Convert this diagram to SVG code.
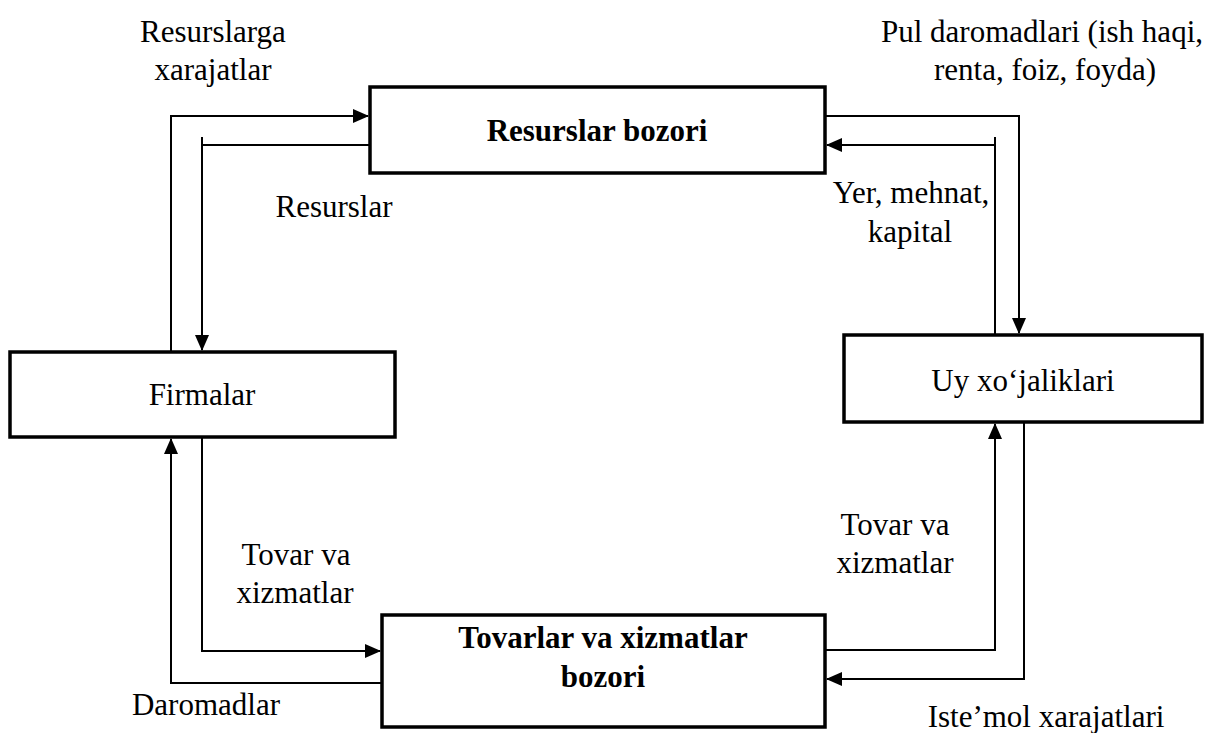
<svg xmlns="http://www.w3.org/2000/svg" width="1206" height="733" viewBox="0 0 1206 733">
<style>
.box{fill:#fff;stroke:#000;stroke-width:3.5}
.ln{fill:none;stroke:#000;stroke-width:2}
.t{font-family:"Liberation Serif","Times New Roman",serif;font-size:31px;fill:#000;text-anchor:middle}
.b{font-weight:bold}
</style>
<defs>
<marker id="ah" markerUnits="userSpaceOnUse" markerWidth="16" markerHeight="14" refX="15" refY="7" orient="auto">
<path d="M0,0 L16,7 L0,14 Z" fill="#000"/>
</marker>
</defs>
<rect width="1206" height="733" fill="#fff"/>
<g id="connectors">
<path class="ln" d="M171,352 V116 H368" marker-end="url(#ah)"/>
<path class="ln" d="M370,145 H202"/>
<path class="ln" d="M202,137 V350" marker-end="url(#ah)"/>
<path class="ln" d="M825,116 H1019 V333" marker-end="url(#ah)"/>
<path class="ln" d="M995,335 V137"/>
<path class="ln" d="M995,145 H827" marker-end="url(#ah)"/>
<path class="ln" d="M202,437 V651 H380" marker-end="url(#ah)"/>
<path class="ln" d="M382,683 H171 V439" marker-end="url(#ah)"/>
<path class="ln" d="M825,650 H995 V424" marker-end="url(#ah)"/>
<path class="ln" d="M1024,422 V679 H827" marker-end="url(#ah)"/>
</g>
<g id="resurslar-bozori">
<rect class="box" x="370" y="87" width="455" height="86"/>
<text class="t b" x="597" y="141">Resurslar bozori</text>
</g>
<g id="firmalar">
<rect class="box" x="10" y="352" width="385" height="85"/>
<text class="t" x="202" y="405">Firmalar</text>
</g>
<g id="uy-xojaliklari">
<rect class="box" x="844" y="335" width="358" height="87"/>
<text class="t" x="1023" y="391">Uy xo‘jaliklari</text>
</g>
<g id="tovarlar-bozori">
<rect class="box" x="382" y="615" width="443" height="112"/>
<text class="t b" x="603" y="648">Tovarlar va xizmatlar</text>
<text class="t b" x="603" y="687">bozori</text>
</g>
<g id="labels">
<text class="t" x="213" y="42">Resurslarga</text>
<text class="t" x="213" y="80">xarajatlar</text>
<text class="t" x="334" y="217">Resurslar</text>
<text class="t" x="1042" y="42">Pul daromadlari (ish haqi,</text>
<text class="t" x="1045" y="80">renta, foiz, foyda)</text>
<text class="t" x="911" y="203">Yer, mehnat,</text>
<text class="t" x="910" y="242">kapital</text>
<text class="t" x="296" y="565">Tovar va</text>
<text class="t" x="295" y="603">xizmatlar</text>
<text class="t" x="895" y="535">Tovar va</text>
<text class="t" x="895" y="573">xizmatlar</text>
<text class="t" x="206" y="715">Daromadlar</text>
<text class="t" x="1046" y="727">Iste’mol xarajatlari</text>
</g>
</svg>
